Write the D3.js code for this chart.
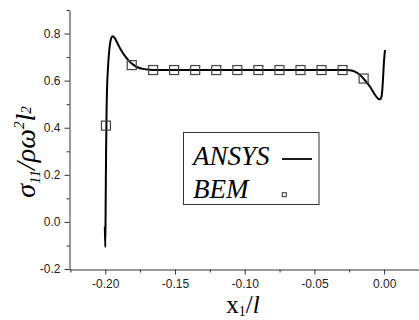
<!DOCTYPE html>
<html>
<head>
	<title>Stress along x1</title>
	<script src="https://d3js.org/d3.v7.min.js" charset="utf-8"></script>
	<style>
		body { margin: 0; background: #fff; }
		.tick text { font-family: "Liberation Sans", Arial, sans-serif; font-size: 12px; fill: #222; }
		.serif { font-family: "Liberation Serif", "Times New Roman", serif; }
	</style>
</head>
<body>
	<svg width="419" height="320"></svg>
	<script>
		// ANSYS curve
		const ansysX = [-0.2003, -0.2000, -0.1997, -0.1994, -0.1991, -0.1987, -0.1980, -0.1970, -0.1960, -0.1950,
			-0.1935, -0.1915, -0.1890, -0.1862, -0.1830, -0.1800, -0.1770, -0.1730, -0.1680, -0.1600,
			-0.1500, -0.1300, -0.1100, -0.0900, -0.0700, -0.0500, -0.0350, -0.0290, -0.0245, -0.0210,
			-0.0173, -0.0144, -0.0101, -0.0065, -0.0037, -0.0025, -0.0017, -0.0011, -0.0006, 0.0000, 0.0006];
		const ansysY = [-0.020, -0.107, 0.080, 0.300, 0.450, 0.570, 0.660, 0.735, 0.775, 0.788,
			0.783, 0.762, 0.733, 0.707, 0.684, 0.668, 0.657, 0.650, 0.646, 0.645,
			0.645, 0.645, 0.645, 0.645, 0.645, 0.645, 0.645, 0.645, 0.644, 0.638,
			0.624, 0.606, 0.574, 0.539, 0.521, 0.523, 0.539, 0.580, 0.631, 0.690, 0.730];

		// BEM points
		const bemX = [-0.1995, -0.1810, -0.1657, -0.1506, -0.1355, -0.1204, -0.1053, -0.0902, -0.0751, -0.0600, -0.0449, -0.0298, -0.0147];
		const bemY = [0.409, 0.666, 0.645, 0.645, 0.645, 0.645, 0.645, 0.645, 0.645, 0.645, 0.645, 0.645, 0.609];

		const xTicks = [-0.20, -0.15, -0.10, -0.05, 0.00];
		const xMinor = [-0.225, -0.175, -0.125, -0.075, -0.025];
		const yTicks = [-0.2, 0.0, 0.2, 0.4, 0.6, 0.8];
		const yMinor = [-0.1, 0.1, 0.3, 0.5, 0.7, 0.9];
		const legendNames = ["ANSYS", "BEM"];

		const svg = d3.select('svg');

		const x = d3.scaleLinear().domain([-0.226, 0.025]).range([69, 419]);
		const y = d3.scaleLinear().domain([-0.2, 0.9]).range([269, 10]);
		const fmt = f => d => d3.format(f)(d).replace('\u2212', '-');

		// minor ticks
		svg.append('g')
			.attr('transform', 'translate(0,269.5)')
			.call(d3.axisBottom(x).tickValues(xMinor).tickSize(3).tickSizeOuter(0).tickFormat(''))
			.call(g => g.select('.domain').remove());
		svg.append('g')
			.attr('transform', 'translate(69.5,0)')
			.call(d3.axisLeft(y).tickValues(yMinor).tickSize(3).tickSizeOuter(0).tickFormat(''))
			.call(g => g.select('.domain').remove());

		// major axes
		svg.append('g')
			.attr('transform', 'translate(0,269.5)')
			.call(d3.axisBottom(x).tickValues(xTicks).tickSize(5).tickSizeOuter(0).tickPadding(5).tickFormat(fmt('.2f')));
		svg.append('g')
			.attr('transform', 'translate(69.5,0)')
			.call(d3.axisLeft(y).tickValues(yTicks).tickSize(5).tickSizeOuter(0).tickPadding(4).tickFormat(fmt('.1f')));
		svg.selectAll('.domain, .tick line').attr('stroke', '#333');

		// ANSYS line
		const pts = ansysX.map((d, i) => [d, ansysY[i]]);
		svg.append('path')
			.datum(pts)
			.attr('fill', 'none')
			.attr('stroke', '#000')
			.attr('stroke-width', 2)
			.attr('d', d3.line().x(d => x(d[0])).y(d => y(d[1])).curve(d3.curveCatmullRom.alpha(0.5)));

		// BEM squares
		svg.selectAll('rect.bem')
			.data(bemX.map((d, i) => [d, bemY[i]]))
			.enter()
			.append('rect')
			.attr('class', 'bem')
			.attr('x', d => x(d[0]) - 4.5)
			.attr('y', d => y(d[1]) - 4.5)
			.attr('width', 9)
			.attr('height', 9)
			.attr('fill', 'none')
			.attr('stroke', '#444')
			.attr('stroke-width', 1.2);

		// legend
		const lg = svg.append('g');
		lg.append('rect')
			.attr('x', 183.5).attr('y', 132.5).attr('width', 135.5).attr('height', 72)
			.attr('fill', '#fff').attr('stroke', '#333').attr('stroke-width', 1);
		lg.selectAll('text')
			.data(legendNames)
			.enter()
			.append('text')
			.attr('class', 'serif')
			.attr('x', 193)
			.attr('y', (d, i) => 165 + i * 33)
			.attr('font-size', 27)
			.attr('font-style', 'italic')
			.text(d => d);
		lg.append('line')
			.attr('x1', 282).attr('x2', 312).attr('y1', 159).attr('y2', 159)
			.attr('stroke', '#000').attr('stroke-width', 1.8);
		lg.append('rect')
			.attr('x', 282.3).attr('y', 192.7).attr('width', 4).attr('height', 4)
			.attr('fill', 'none').attr('stroke', '#333').attr('stroke-width', 1);

		// axis titles
		const xt = svg.append('text')
			.attr('class', 'serif')
			.attr('x', 243).attr('y', 313)
			.attr('text-anchor', 'middle')
			.attr('font-size', 25);
		xt.append('tspan').text('x');
		xt.append('tspan').attr('font-size', 14).attr('dy', 3).text('1');
		xt.append('tspan').attr('dy', -3).text('/');
		xt.append('tspan').attr('font-style', 'italic').text('l');

		const yt = svg.append('text')
			.attr('class', 'serif')
			.attr('transform', 'translate(35,152) rotate(-90)')
			.attr('text-anchor', 'middle')
			.attr('font-size', 28)
			.attr('font-style', 'italic');
		yt.append('tspan').text('σ');
		yt.append('tspan').attr('font-size', 15).attr('dy', 5).text('11');
		yt.append('tspan').attr('dy', -5).text('/ρω');
		yt.append('tspan').attr('font-size', 15).attr('dy', -11).text('2');
		yt.append('tspan').attr('dy', 11).text('l');
		yt.append('tspan').attr('font-size', 15).attr('dy', -4).text('2');
	</script>
</body>
</html>
